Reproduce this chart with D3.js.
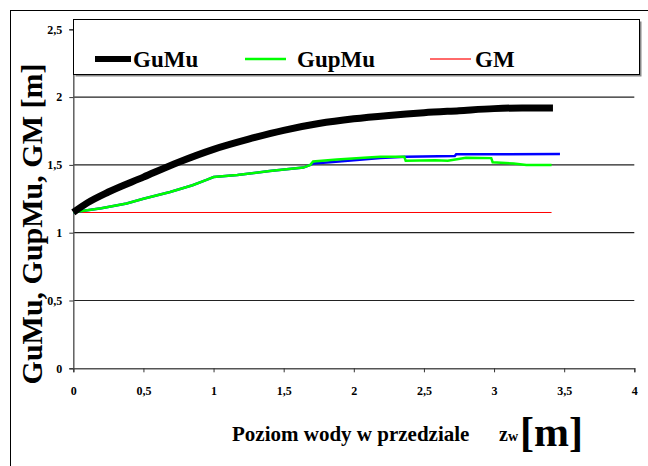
<!DOCTYPE html>
<html>
<head>
<meta charset="utf-8">
<script src="https://cdn.jsdelivr.net/npm/d3@7"></script>
<style>
  body { margin: 0; background: #fff; }
  svg { display: block; }
  text { font-family: "Liberation Serif", "Times New Roman", serif; font-weight: bold; fill: #000; }
</style>
</head>
<body>
<div id="chart"></div>
<script>
// water level z_w [m] and the three curves
const guMuX = [0, 0.1, 0.25, 0.5, 0.75, 1, 1.25, 1.5, 1.75, 2, 2.25, 2.5, 2.75, 3, 3.2, 3.42];
const guMuY = [1.15, 1.22, 1.30, 1.41, 1.52, 1.615, 1.69, 1.755, 1.805, 1.84, 1.865, 1.885, 1.90, 1.915, 1.92, 1.92];

const gupMuX = [0, 0.2, 0.38, 0.5, 0.69, 0.85, 0.95, 1.0, 1.17, 1.4, 1.64, 1.69, 1.71, 1.88, 2.1, 2.19, 2.36, 2.37, 2.58, 2.67, 2.8, 2.98, 2.99, 3.14, 3.23, 3.41];
const gupMuY = [1.15, 1.18, 1.215, 1.25, 1.30, 1.35, 1.39, 1.41, 1.425, 1.455, 1.48, 1.50, 1.525, 1.54, 1.555, 1.56, 1.56, 1.53, 1.535, 1.53, 1.553, 1.55, 1.52, 1.51, 1.50, 1.50];

// unlabelled blue series, mostly hidden under GupMu
const blueX = [0, 0.2, 0.38, 0.5, 0.69, 0.85, 0.95, 1.0, 1.17, 1.4, 1.64, 1.69, 1.71, 1.83, 2.0, 2.19, 2.37, 2.72, 2.73, 3.47];
const blueY = [1.15, 1.18, 1.215, 1.25, 1.30, 1.35, 1.39, 1.41, 1.425, 1.455, 1.48, 1.50, 1.51, 1.52, 1.535, 1.55, 1.56, 1.565, 1.578, 1.58];

const gmX = [0, 3.41];
const gmY = [1.149, 1.149];

const xTicks = [0, 0.5, 1, 1.5, 2, 2.5, 3, 3.5, 4];
const yTicks = [0, 0.5, 1, 1.5, 2, 2.5];
const gridValues = [0.5, 1, 1.5, 2];

const legendNames = ['GuMu', 'GupMu', 'GM'];
const legendColors = ['#000', '#00ff00', '#ff6a6a'];

const width = 648, height = 466;
const plot = { left: 73.3, right: 634.3, top: 29.3, bottom: 368.3 };

const svg = d3.select('#chart')
  .append('svg')
    .attr('width', width)
    .attr('height', height);

// outer chart frame (cropped at right/bottom)
svg.append('rect')
  .attr('x', 10.5).attr('y', 10.5)
  .attr('width', 700).attr('height', 500)
  .attr('fill', 'none')
  .attr('stroke', '#000');

const x = d3.scaleLinear().domain([0, 4]).range([plot.left, plot.right]);
const y = d3.scaleLinear().domain([0, 2.5]).range([plot.bottom, plot.top]);
const fmt = (d) => String(d).replace('.', ',');

// gridlines
svg.append('g')
  .selectAll('line')
  .data(gridValues)
  .join('line')
    .attr('x1', plot.left).attr('x2', plot.right)
    .attr('y1', (d) => y(d)).attr('y2', (d) => y(d))
    .attr('stroke', '#222')
    .attr('stroke-width', 1.2);

const yAxis = svg.append('g')
  .attr('transform', `translate(${plot.left},0)`)
  .call(d3.axisLeft(y).tickValues(yTicks).tickSize(4).tickPadding(7).tickFormat(fmt));

const xAxis = svg.append('g')
  .attr('transform', `translate(0,${plot.bottom})`)
  .call(d3.axisBottom(x).tickValues(xTicks).tickSize(4).tickPadding(14).tickFormat(fmt));

[xAxis, yAxis].forEach((g) => {
  g.attr('font-family', null);
  g.select('.domain').attr('stroke', '#555').attr('stroke-width', 1.4);
  g.selectAll('.tick line').attr('stroke', '#333');
  g.selectAll('.tick text')
    .attr('font-size', 12)
    .attr('fill', '#000');
});

const line = d3.line()
  .x((d) => x(d[0]))
  .y((d) => y(d[1]));

const zip = (xs, ys) => xs.map((v, i) => [v, ys[i]]);

svg.append('path')
  .datum(zip(gmX, gmY))
  .attr('fill', 'none')
  .attr('stroke', '#ff0000')
  .attr('stroke-width', 1)
  .attr('d', line);

svg.append('path')
  .datum(zip(blueX, blueY))
  .attr('fill', 'none')
  .attr('stroke', '#0000ff')
  .attr('stroke-width', 2.5)
  .attr('d', line);

svg.append('path')
  .datum(zip(gupMuX, gupMuY))
  .attr('fill', 'none')
  .attr('stroke', '#00ff00')
  .attr('stroke-width', 2.5)
  .attr('d', line);

svg.append('path')
  .datum(zip(guMuX, guMuY))
  .attr('fill', 'none')
  .attr('stroke', '#000')
  .attr('stroke-width', 7)
  .attr('d', line.curve(d3.curveMonotoneX));

// legend box with a small shadow
svg.append('rect')
  .attr('x', 75.5).attr('y', 21.5)
  .attr('width', 566).attr('height', 55)
  .attr('fill', '#888');
svg.append('rect')
  .attr('x', 73.5).attr('y', 19.5)
  .attr('width', 566).attr('height', 55)
  .attr('fill', '#fff')
  .attr('stroke', '#000');

const legendLineX = [95, 245, 430];
const legendWidths = [6, 2.5, 2];
const legend = svg.append('g')
  .selectAll('g')
  .data(legendNames)
  .join('g')
    .attr('transform', (d, i) => `translate(${legendLineX[i]},0)`);

legend.append('line')
  .attr('x1', 0).attr('x2', (d, i) => i === 0 ? 36 : 41)
  .attr('y1', 59).attr('y2', 59)
  .attr('stroke', (d, i) => legendColors[i])
  .attr('stroke-width', (d, i) => legendWidths[i]);

legend.append('text')
  .attr('x', (d, i) => i === 0 ? 38 : (i === 1 ? 52 : 45))
  .attr('y', 67)
  .attr('font-size', 23)
  .text((d) => d);

// axis titles
svg.append('text')
  .attr('transform', 'translate(42,224) rotate(-90)')
  .attr('text-anchor', 'middle')
  .attr('font-size', 30)
  .text('GuMu, GupMu, GM [m]');

svg.append('text')
  .attr('x', 232).attr('y', 441)
  .attr('font-size', 21)
  .text('Poziom wody w przedziale');

const unit = svg.append('text')
  .attr('x', 499).attr('y', 441);
unit.append('tspan').attr('font-size', 20).text('z');
unit.append('tspan').attr('font-size', 14).text('w');

svg.append('text')
  .attr('x', 520).attr('y', 446)
  .attr('font-size', 42)
  .text('[m]');
</script>
</body>
</html>
